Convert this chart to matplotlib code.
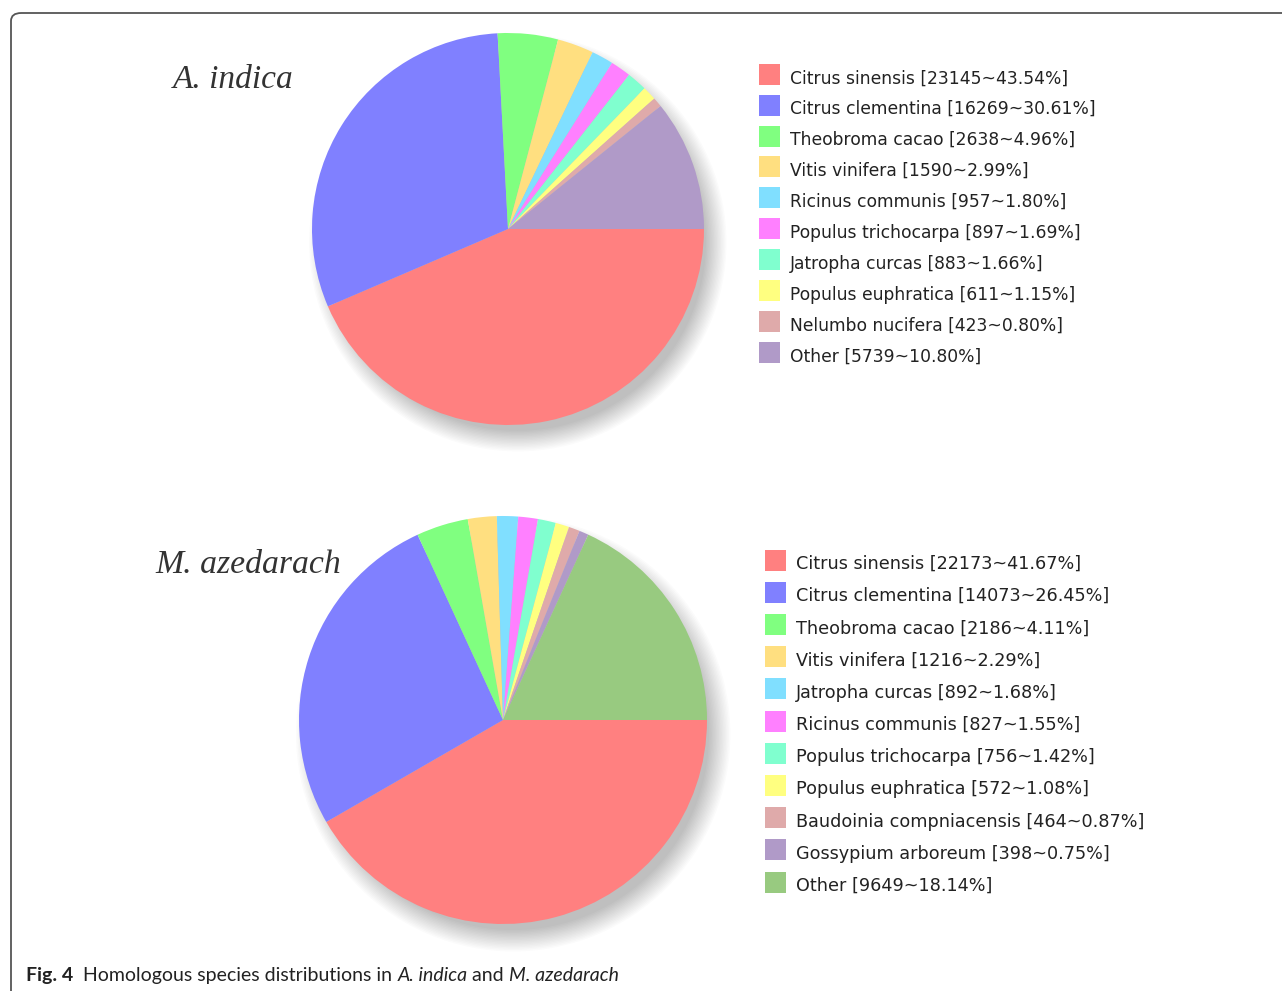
import numpy as np
import matplotlib
matplotlib.use('Agg')
import matplotlib.pyplot as plt
from matplotlib.patches import Rectangle, Circle, FancyBboxPatch

# A. indica homologous species
names_a = ['Citrus sinensis', 'Citrus clementina', 'Theobroma cacao', 'Vitis vinifera',
           'Ricinus communis', 'Populus trichocarpa', 'Jatropha curcas',
           'Populus euphratica', 'Nelumbo nucifera', 'Other']
counts_a = [23145, 16269, 2638, 1590, 957, 897, 883, 611, 423, 5739]
pct_a = [43.54, 30.61, 4.96, 2.99, 1.80, 1.69, 1.66, 1.15, 0.80, 10.80]
colors_a = ['#ff8080', '#8080ff', '#80ff80', '#ffdf80', '#80dfff', '#ff80ff',
            '#80ffcf', '#ffff80', '#dfaaaa', '#b09ac8']

# M. azedarach homologous species
names_m = ['Citrus sinensis', 'Citrus clementina', 'Theobroma cacao', 'Vitis vinifera',
           'Jatropha curcas', 'Ricinus communis', 'Populus trichocarpa',
           'Populus euphratica', 'Baudoinia compniacensis', 'Gossypium arboreum', 'Other']
counts_m = [22173, 14073, 2186, 1216, 892, 827, 756, 572, 464, 398, 9649]
pct_m = [41.67, 26.45, 4.11, 2.29, 1.68, 1.55, 1.42, 1.08, 0.87, 0.75, 18.14]
colors_m = ['#ff8080', '#8080ff', '#80ff80', '#ffdf80', '#80dfff', '#ff80ff',
            '#80ffcf', '#ffff80', '#dfaaaa', '#b09ac8', '#98ca80']

W, H = 1282, 991
fig = plt.figure(figsize=(W / 100, H / 100), dpi=100)


def fx(px):
    return px / W


def fy(py):
    return 1 - py / H


def draw_pie(cx, cy, r, counts, colors):
    # axes limits are +-1.2 so the shadow fits
    side = 2.4 * r
    ax = fig.add_axes([fx(cx - side / 2), fy(cy + side / 2), side / W, side / H])
    ax.set_xlim(-1.2, 1.2)
    ax.set_ylim(-1.2, 1.2)
    ax.set_aspect('equal')
    ax.axis('off')
    # soft drop shadow, offset to lower right
    for k in range(16):
        ax.add_patch(Circle((0.05, -0.07), 0.96 + 0.007 * k, color='k', alpha=0.016, lw=0))
    ax.pie(counts, colors=colors, startangle=0, counterclock=False, radius=1.0,
           wedgeprops=dict(linewidth=0), center=(0, 0), frame=False)
    ax.set_xlim(-1.2, 1.2)
    ax.set_ylim(-1.2, 1.2)
    return ax


def draw_legend(x0, y0, dy, sq, names, counts, pct, colors, fs):
    for i, (n, c, p, col) in enumerate(zip(names, counts, pct, colors)):
        yc = y0 + i * dy
        fig.patches.append(Rectangle((fx(x0), fy(yc + sq / 2)), sq / W, sq / H,
                                     transform=fig.transFigure, color=col, lw=0))
        fig.text(fx(x0 + sq + 10), fy(yc + 4), f'{n} [{c}~{p:.2f}%]', fontsize=fs,
                 color='#222222', ha='left', va='center', family='DejaVu Sans')


draw_pie(508, 229, 196, counts_a, colors_a)
draw_pie(503, 720, 204, counts_m, colors_m)

draw_legend(759, 74.3, 30.9, 21, names_a, counts_a, pct_a, colors_a, 12.3)
draw_legend(765, 560, 32.2, 21, names_m, counts_m, pct_m, colors_m, 12.7)

fig.text(fx(173), fy(88), 'A. indica', fontsize=24, style='italic', color='#333333',
         family='Liberation Serif', ha='left', va='baseline')
fig.text(fx(155), fy(573), 'M. azedarach', fontsize=24.3, style='italic', color='#333333',
         family='Liberation Serif', ha='left', va='baseline')

# frame around the figure panel
fig.patches.append(FancyBboxPatch((fx(11), fy(1010)), (1300 - 11) / W, (1010 - 13) / H,
                                  boxstyle='round,pad=0,rounding_size=0.008',
                                  transform=fig.transFigure, fill=False,
                                  edgecolor='#555555', lw=1.3))

# caption, built piece by piece
renderer = fig.canvas.get_renderer()
pieces = [('Fig. 4', 'bold', 'normal'), ('  Homologous species distributions in ', 'normal', 'normal'),
          ('A. indica', 'normal', 'italic'), (' and ', 'normal', 'normal'),
          ('M. azedarach', 'normal', 'italic')]
xpos = 26
for txt, wt, st in pieces:
    t = fig.text(fx(xpos), fy(981), txt, fontsize=14, weight=wt, style=st,
                 family='Lato', color='#222222', ha='left', va='baseline')
    bb = t.get_window_extent(renderer=renderer)
    xpos += bb.width

fig.savefig('out.png', dpi=100)
